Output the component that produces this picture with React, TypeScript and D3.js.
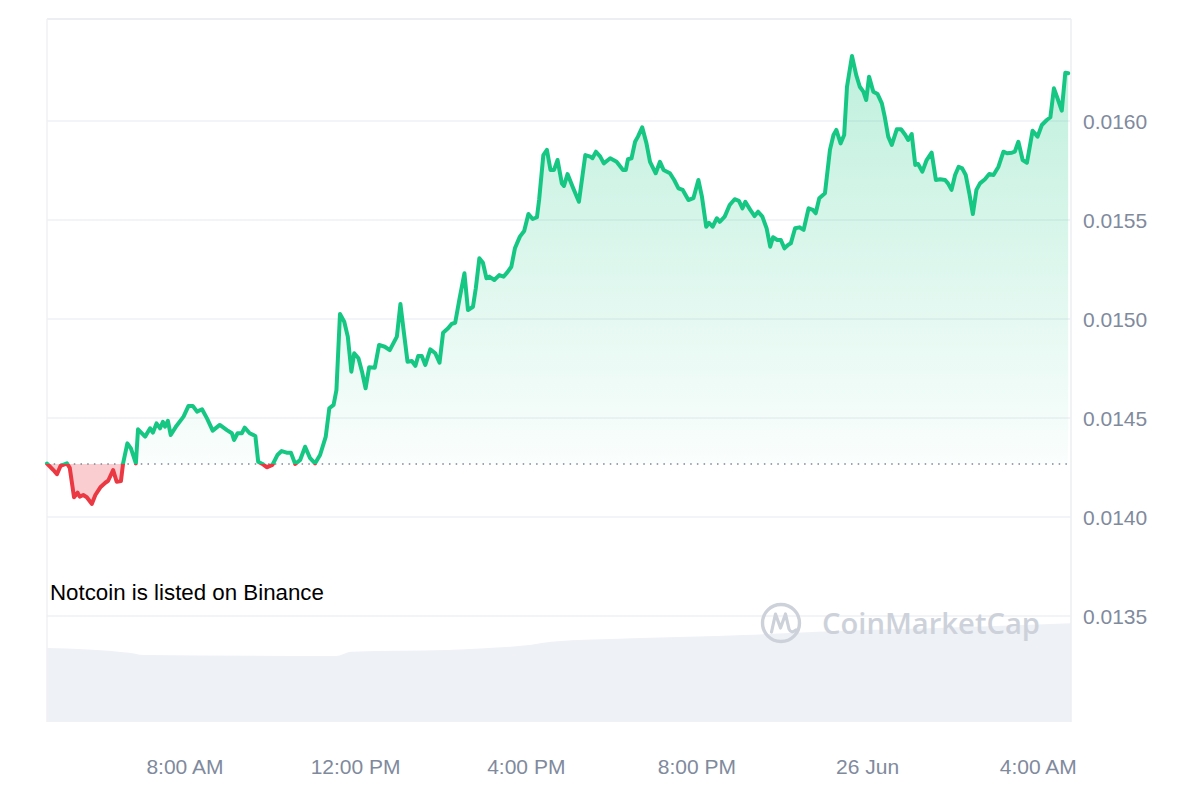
import React from 'react';
import * as d3 from 'd3';

// ---- data ----
const startTime = new Date(2024, 5, 25, 4, 46);
const windowMinutes = 1440;

const priceMinutes = [
  0, 9, 14, 19, 28, 32, 38, 43, 46, 51, 56, 63, 68, 75, 82, 86, 93, 98, 104, 107,
  113, 118, 125, 128, 138, 145, 149, 154, 159, 163, 166, 170, 174, 182, 192, 199, 205, 211, 218, 225,
  233, 243, 253, 260, 263, 268, 274, 278, 285, 293, 297, 303, 309, 317, 324, 330, 337, 343, 349, 356,
  363, 370, 377, 384, 392, 397, 403, 407, 412, 418, 423, 428, 432, 438, 443, 448, 453, 461, 467, 475,
  482, 492, 497, 502, 507, 513, 518, 522, 527, 532, 539, 546, 552, 557, 564, 569, 574, 580, 587, 592,
  599, 603, 608, 613, 618, 622, 629, 636, 642, 647, 653, 658, 665, 671, 677, 683, 689, 692, 698, 703,
  708, 713, 718, 724, 727, 732, 740, 748, 757, 764, 767, 772, 778, 783, 792, 801, 810, 814, 817, 822,
  827, 831, 837, 843, 848, 856, 862, 867, 876, 882, 888, 894, 902, 909, 916, 921, 927, 931, 936, 942,
  946, 953, 960, 967, 973, 978, 982, 989, 995, 1000, 1006, 1012, 1017, 1021, 1027, 1032, 1037, 1042, 1046, 1052,
  1058, 1064, 1071, 1077, 1081, 1086, 1094, 1101, 1106, 1110, 1116, 1121, 1125, 1132, 1138, 1143, 1148, 1152, 1156, 1162,
  1168, 1174, 1178, 1183, 1188, 1195, 1201, 1207, 1211, 1216, 1221, 1225, 1231, 1237, 1244, 1250, 1256, 1263, 1267, 1272,
  1277, 1282, 1287, 1292, 1297, 1302, 1307, 1312, 1319, 1325, 1331, 1338, 1345, 1350, 1357, 1361, 1366, 1372, 1378, 1386,
  1393, 1399, 1406, 1411, 1416, 1421, 1427, 1432, 1436,
];

const priceValues = [
  0.014270, 0.014237, 0.014216, 0.014258, 0.014271, 0.014248, 0.014100, 0.014123, 0.014103, 0.014111,
  0.014100, 0.014066, 0.014111, 0.014150, 0.014173, 0.014183, 0.014237, 0.014178, 0.014182, 0.014271,
  0.014372, 0.014347, 0.014271, 0.014443, 0.014406, 0.014448, 0.014426, 0.014473, 0.014448, 0.014481,
  0.014456, 0.014486, 0.014414, 0.014460, 0.014507, 0.014561, 0.014561, 0.014532, 0.014544, 0.014498,
  0.014436, 0.014465, 0.014439, 0.014423, 0.014389, 0.014423, 0.014423, 0.014451, 0.014423, 0.014409,
  0.014279, 0.014268, 0.014251, 0.014263, 0.014313, 0.014333, 0.014325, 0.014325, 0.014268, 0.014288,
  0.014355, 0.014297, 0.014271, 0.014313, 0.014406, 0.014549, 0.014566, 0.014641, 0.015025, 0.014986,
  0.014911, 0.014734, 0.014827, 0.014802, 0.014734, 0.014650, 0.014756, 0.014754, 0.014869, 0.014860,
  0.014843, 0.014911, 0.015076, 0.014928, 0.014784, 0.014788, 0.014763, 0.014813, 0.014813, 0.014768,
  0.014847, 0.014827, 0.014779, 0.014931, 0.014953, 0.014975, 0.014981, 0.015100, 0.015231, 0.015045,
  0.015062, 0.015155, 0.015307, 0.015284, 0.015206, 0.015214, 0.015197, 0.015222, 0.015214, 0.015234,
  0.015264, 0.015357, 0.015416, 0.015444, 0.015530, 0.015505, 0.015514, 0.015601, 0.015828, 0.015854,
  0.015753, 0.015753, 0.015803, 0.015685, 0.015672, 0.015732, 0.015660, 0.015592, 0.015828, 0.015820,
  0.015812, 0.015845, 0.015820, 0.015786, 0.015812, 0.015794, 0.015753, 0.015753, 0.015807, 0.015812,
  0.015895, 0.015921, 0.015968, 0.015887, 0.015794, 0.015736, 0.015794, 0.015753, 0.015736, 0.015702,
  0.015660, 0.015652, 0.015601, 0.015610, 0.015702, 0.015618, 0.015466, 0.015486, 0.015466, 0.015509,
  0.015491, 0.015517, 0.015576, 0.015605, 0.015597, 0.015559, 0.015592, 0.015551, 0.015520, 0.015542,
  0.015517, 0.015458, 0.015365, 0.015413, 0.015399, 0.015399, 0.015357, 0.015374, 0.015382, 0.015458,
  0.015463, 0.015450, 0.015559, 0.015551, 0.015534, 0.015610, 0.015635, 0.015854, 0.015929, 0.015955,
  0.015887, 0.015929, 0.016173, 0.016328, 0.016232, 0.016173, 0.016148, 0.016106, 0.016224, 0.016148,
  0.016136, 0.016089, 0.016022, 0.015921, 0.015879, 0.015958, 0.015958, 0.015929, 0.015904, 0.015934,
  0.015778, 0.015783, 0.015744, 0.015803, 0.015840, 0.015702, 0.015706, 0.015702, 0.015685, 0.015652,
  0.015727, 0.015769, 0.015761, 0.015727, 0.015635, 0.015530, 0.015652, 0.015685, 0.015706, 0.015732,
  0.015727, 0.015769, 0.015845, 0.015837, 0.015840, 0.015845, 0.015895, 0.015803, 0.015789, 0.015951,
  0.015921, 0.015980, 0.016005, 0.016019, 0.016165, 0.016115, 0.016052, 0.016244, 0.016241,
];

const baselinePrice = 0.014268;

const volumeMinutes = [0, 115, 136, 406, 428, 563, 615, 678, 709, 823, 980, 1084, 1240, 1440];
const volumeValues = [740, 693, 670, 660, 703, 720, 737, 770, 803, 837, 870, 903, 937, 987];

const yTicks = [0.0135, 0.014, 0.0145, 0.015, 0.0155, 0.016];
const xTickTimes = [
  new Date(2024, 5, 25, 8, 0),
  new Date(2024, 5, 25, 12, 0),
  new Date(2024, 5, 25, 16, 0),
  new Date(2024, 5, 25, 20, 0),
  new Date(2024, 5, 26, 0, 0),
  new Date(2024, 5, 26, 4, 0),
];
const xTickLabels = ['8:00 AM', '12:00 PM', '4:00 PM', '8:00 PM', '26 Jun', '4:00 AM'];
const annotationText = 'Notcoin is listed on Binance';
const watermarkText = 'CoinMarketCap';

// ---- layout ----
const W = 1200;
const H = 800;
const left = 47;
const right = 1071;
const top = 19;
const volBottom = 722;

const GREEN = '#16c784';
const RED = '#ea3943';
const GRID = '#eff1f4';
const LABEL = '#808a9d';
const WM = '#cdd2da';
const FONT = '"Liberation Sans", Arial, Helvetica, sans-serif';

export default function App() {
  const endTime = new Date(startTime.getTime() + windowMinutes * 60000);
  const x = d3.scaleTime().domain([startTime, endTime]).range([left, right]);
  const y = d3.scaleLinear().domain([0.0135, 0.016]).range([616, 121]);
  const yv = d3.scaleLinear().domain([0, 1000]).range([volBottom, 622]);

  const pts = priceMinutes.map((m, i) => ({
    t: new Date(startTime.getTime() + m * 60000),
    v: priceValues[i],
  }));
  const vols = volumeMinutes.map((m, i) => ({
    t: new Date(startTime.getTime() + m * 60000),
    v: volumeValues[i],
  }));

  const by = y(baselinePrice);

  const line = d3
    .line<{ t: Date; v: number }>()
    .x((d) => x(d.t))
    .y((d) => y(d.v))
    .curve(d3.curveLinear);
  const area = d3
    .area<{ t: Date; v: number }>()
    .x((d) => x(d.t))
    .y0(by)
    .y1((d) => y(d.v))
    .curve(d3.curveLinear);
  const volArea = d3
    .area<{ t: Date; v: number }>()
    .x((d) => x(d.t))
    .y0(volBottom)
    .y1((d) => yv(d.v))
    .curve(d3.curveMonotoneX);

  const linePath = line(pts) || '';
  const areaPath = area(pts) || '';

  return (
    <div style={{ position: 'absolute', left: 0, top: 0 }}>
      <svg width={W} height={H} viewBox={`0 0 ${W} ${H}`} style={{ display: 'block', background: '#fff' }}>
        <defs>
          <linearGradient id="greenFill" gradientUnits="userSpaceOnUse" x1="0" y1={top} x2="0" y2={by}>
            <stop offset="0" stopColor={GREEN} stopOpacity={0.3} />
            <stop offset="1" stopColor={GREEN} stopOpacity={0.02} />
          </linearGradient>
          <clipPath id="aboveBase">
            <rect x={0} y={0} width={W} height={by} />
          </clipPath>
          <clipPath id="belowBase">
            <rect x={0} y={by} width={W} height={H - by} />
          </clipPath>
        </defs>

        {/* volume */}
        <path d={volArea(vols) || ''} fill="#eef1f5" />

        {/* frame & grid */}
        <line x1={left} x2={right} y1={top} y2={top} stroke="#e6e8ec" strokeWidth={1.5} />
        <line x1={left} x2={left} y1={top} y2={volBottom} stroke="#f0f1f3" strokeWidth={1.5} />
        <line x1={right} x2={right} y1={top} y2={volBottom} stroke="#eceef1" strokeWidth={1.5} />
        {yTicks.map((t) => (
          <line key={t} x1={left} x2={right} y1={y(t)} y2={y(t)} stroke={GRID} strokeWidth={1.5} />
        ))}

        {/* fills */}
        <path d={areaPath} fill="url(#greenFill)" clipPath="url(#aboveBase)" />
        <path d={areaPath} fill={RED} fillOpacity={0.25} clipPath="url(#belowBase)" />

        {/* baseline */}
        <line
          x1={left}
          x2={right}
          y1={by}
          y2={by}
          stroke="#7d8595"
          strokeWidth={1.5}
          strokeDasharray="1.5 5.2"
        />

        {/* price line */}
        <path d={linePath} fill="none" stroke={GREEN} strokeWidth={4} strokeLinejoin="round" strokeLinecap="round" clipPath="url(#aboveBase)" />
        <path d={linePath} fill="none" stroke={RED} strokeWidth={4} strokeLinejoin="round" strokeLinecap="round" clipPath="url(#belowBase)" />

        {/* y labels */}
        {yTicks.map((t) => (
          <text key={t} x={1083} y={y(t)} dy="0.36em" fontFamily={FONT} fontSize={21} fill={LABEL}>
            {t.toFixed(4)}
          </text>
        ))}

        {/* x labels */}
        {xTickTimes.map((t, i) => (
          <text key={i} x={x(t)} y={774} textAnchor="middle" fontFamily={FONT} fontSize={21} fill={LABEL}>
            {xTickLabels[i]}
          </text>
        ))}

        {/* annotation */}
        <text x={50} y={600} fontFamily={FONT} fontSize={22.3} fill="#000">
          {annotationText}
        </text>

        {/* watermark */}
        <g>
          <circle cx={781} cy={623} r={18.5} fill="none" stroke={WM} strokeWidth={3.4} />
          <path
            d="M771.5,632 L775.5,614 L780.5,628 L785.5,614 L789,629 Q791,634 796,630"
            fill="none"
            stroke={WM}
            strokeWidth={3.2}
            strokeLinejoin="round"
            strokeLinecap="round"
          />
          <text
            x={822}
            y={634}
            fontFamily='"Open Sans", "Noto Sans", sans-serif'
            fontWeight={600}
            fontSize={29}
            fill={WM}
            textLength={218}
            lengthAdjust="spacingAndGlyphs"
          >
            {watermarkText}
          </text>
        </g>
      </svg>
    </div>
  );
}
